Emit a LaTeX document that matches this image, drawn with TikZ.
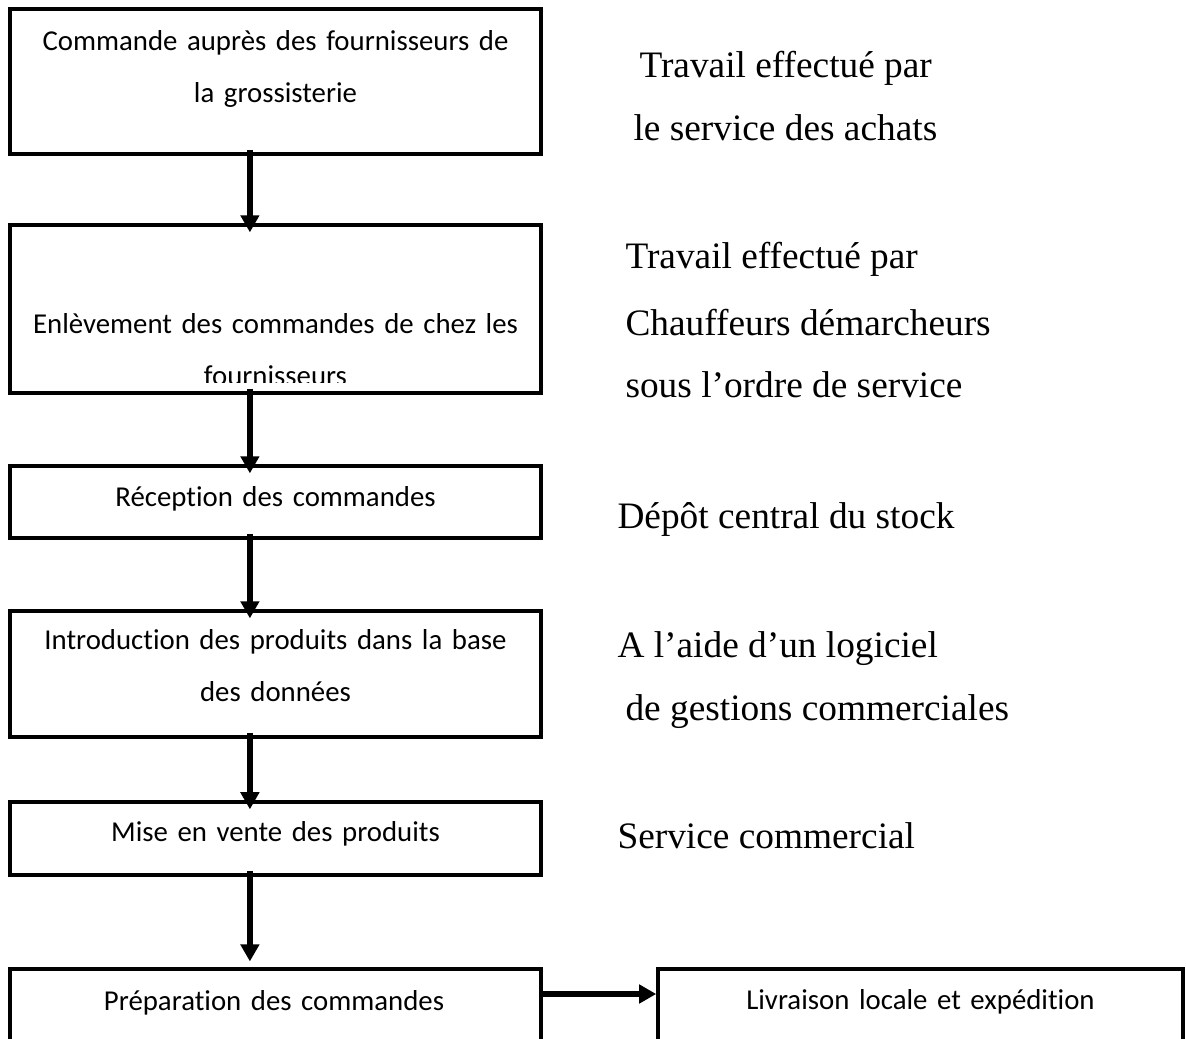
\documentclass[tikz,border=0pt]{standalone}
\usepackage{fontspec}
\setmainfont{Liberation Serif}
\newfontfamily\boxfont[Ligatures=NoCommon]{Carlito}
\usetikzlibrary{arrows.meta,positioning,calc}
\tikzset{flowchart/.style={
  x=0.375pt, y=-0.375pt,
  box/.style={draw, line width=1.3pt, minimum width=199.1pt, inner sep=0pt},
  boxtext/.style={anchor=base, text width=192pt, align=center, inner sep=0pt, font=\boxfont\fontsize{10.8}{19.5}\selectfont},
  note/.style={anchor=base west, inner sep=0pt, font=\fontsize{14}{16}\selectfont},
  flow/.style={-{Triangle[length=6.4pt, width=6.8pt]}, line width=2pt},
  down/.style={flow, shorten <=-2.2pt, shorten >=-3.4pt},
}}

\begin{document}
\begin{tikzpicture}[flowchart]
\useasboundingbox (0,0) rectangle (1186,1039);
% =====================================================================
%  left column: the steps of the order chain
% =====================================================================
\node[box, minimum height=54.4pt] (b1) at (275.5,81.5) {};
\node[boxtext] (t1) at (275.5,50) {Commande auprès des fournisseurs de\\la grossisterie};

\node[box, minimum height=63pt] (b2) at (275.5,309) {};
\begin{scope}
  \clip (b2.north west) rectangle ($(b2.south east)+(0,-12)$);
  \node[boxtext] (t2) at (275.5,333) {Enlèvement des commandes de chez les\\fournisseurs};
\end{scope}

\node[box, minimum height=27pt] (b3) at (275.5,502) {};
\node[boxtext] (t3) at (275.5,506) {Réception des commandes};

\node[box, minimum height=47.25pt] (b4) at (275.5,674) {};
\node[boxtext] (t4) at (275.5,649) {Introduction des produits dans la base\\des données};

\node[box, minimum height=27.4pt] (b5) at (275.5,838.5) {};
\node[boxtext] (t5) at (275.5,841) {Mise en vente des produits};

\node[box, minimum height=49.1pt] (b6) at (275.5,1034.5) {};
\node[boxtext] (t6) at (274,1010) {Préparation des commandes};

\node[box, minimum width=196.9pt, minimum height=49.1pt] (b7) at (920.5,1034.5) {};
\node[boxtext] (t7) at (920.5,1009) {Livraison locale et expédition};

\draw[down] ([xshift=-9.6pt]b1.south) -- ([xshift=-9.6pt]b2.north);
\draw[down] ([xshift=-9.6pt]b2.south) -- ([xshift=-9.6pt]b3.north);
\draw[down] ([xshift=-9.6pt]b3.south) -- ([xshift=-9.6pt]b4.north);
\draw[down] ([xshift=-9.6pt]b4.south) -- ([xshift=-9.6pt]b5.north);
\draw[down, shorten >=2.2pt] ([xshift=-9.6pt]b5.south) -- ([xshift=-9.6pt]b6.north);

\coordinate (side) at (600,994);
\draw[flow] (b6.east |- side) -- (b7.west |- side);

% =====================================================================
%  right column: who does the work
% =====================================================================
\node[note] (w1) at (639,77)  {Travail effectué par};
\node[note] (w2) at (633,140) {le service des achats};
\node[note] (w3) at (625,268) {Travail effectué par};
\node[note] (w4) at (625,335) {Chauffeurs démarcheurs};
\node[note] (w5) at (625,397) {sous l’ordre de service};
\node[note] (w6) at (617,528) {Dépôt central du stock};
\node[note] (w7) at (617,657) {A l’aide d’un logiciel};
\node[note] (w8) at (625,720) {de gestions commerciales};
\node[note] (w9) at (617,848) {Service commercial};
\end{tikzpicture}
\end{document}
